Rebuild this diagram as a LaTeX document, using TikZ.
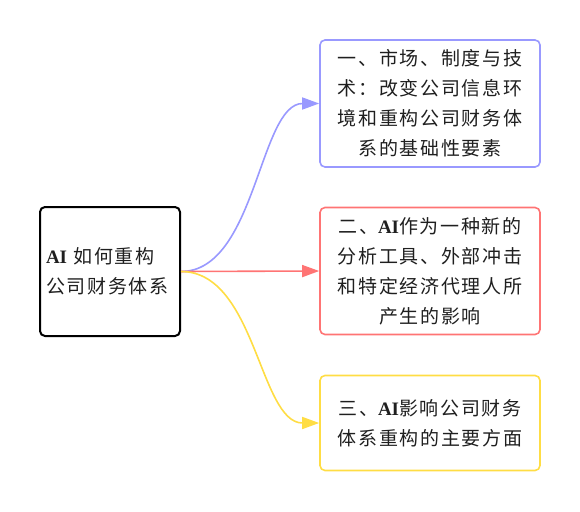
\documentclass[tikz,border=0pt]{standalone}
\usepackage{fontspec}
\setmainfont{Noto Sans CJK SC}[LetterSpace=9]
\newfontfamily\aifont{Liberation Serif}
\usetikzlibrary{arrows.meta}
\definecolor{cblue}{HTML}{9999FF}
\definecolor{cred}{HTML}{FF7474}
\definecolor{cyel}{HTML}{FFDD44}
\newcommand{\AIw}{{\aifont\bfseries AI}}
\tikzset{
  x=1pt, y=1pt,
  txt/.style={font=\fontsize{19}{30}\selectfont, text=black!88},
  leafbox/.style={txt, draw, rounded corners=5pt, line width=1.6pt, minimum width=220pt, align=center, inner sep=4pt},
  rootbox/.style={txt, draw=black, rounded corners=5pt, line width=2pt, minimum width=140pt, minimum height=129pt, text width=128pt, align=left, inner sep=6pt},
  conn/.style={line width=1.6pt, -{Triangle[length=17pt,width=12pt]}},
}
\begin{document}
\begin{tikzpicture}
\useasboundingbox (0,0) rectangle (580,-511);
\node[rootbox] (root) at (110,-271.5) {\AIw{} 如何重构\\公司财务体系};
\node[leafbox, draw=cblue, minimum height=127pt] (b1) at (430,-103.5)
  {一、市场、制度与技\\术：改变公司信息环\\境和重构公司财务体\\系的基础性要素};
\node[leafbox, draw=cred, minimum height=127pt] (b2) at (430,-271)
  {二、\AIw{}作为一种新的\\分析工具、外部冲击\\和特定经济代理人所\\产生的影响};
\node[leafbox, draw=cyel, minimum height=95pt] (b3) at (430,-423)
  {三、\AIw{}影响公司财务\\体系重构的主要方面};
\draw[conn, cblue] (root.east) .. controls +(75,0) and +(-60,0) .. (b1.west);
\draw[conn, cred] (root.east) -- (b2.west);
\draw[conn, cyel] (root.east) .. controls +(75,0) and +(-60,0) .. (b3.west);
\end{tikzpicture}
\end{document}
